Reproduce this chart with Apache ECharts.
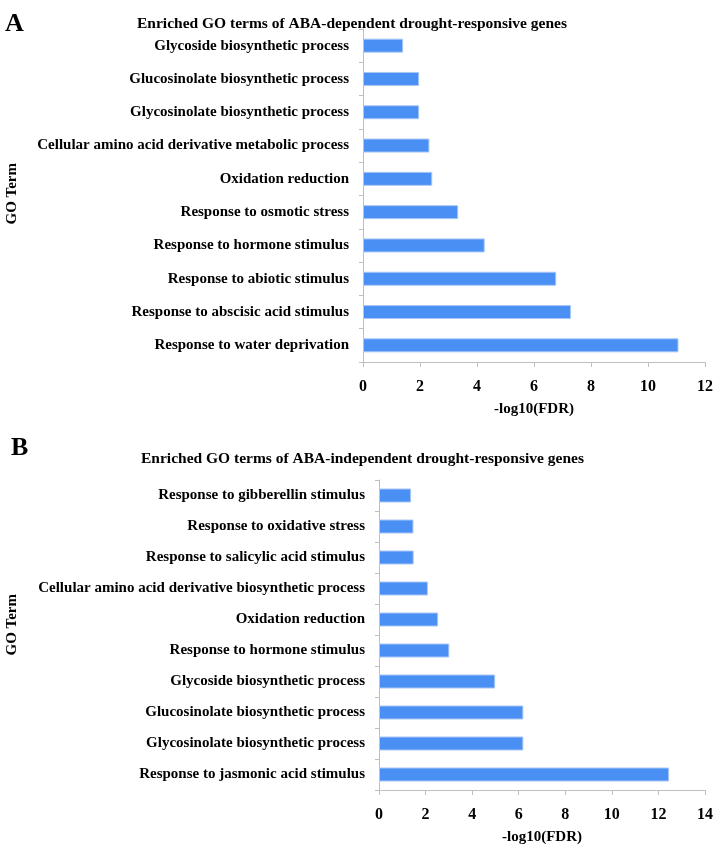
<!DOCTYPE html>
<html>
<head>
<meta charset="utf-8">
<script src="https://cdn.jsdelivr.net/npm/echarts@6/dist/echarts.min.js"></script>
<style>
  html, body { margin: 0; padding: 0; background: #fff; }
  #chart { width: 716px; height: 846px; }
</style>
</head>
<body>
<div id="chart"></div>
<script>
// 上图：ABA依赖
const termsA = [
  "Glycoside biosynthetic process",
  "Glucosinolate biosynthetic process",
  "Glycosinolate biosynthetic process",
  "Cellular amino acid derivative metabolic process",
  "Oxidation reduction",
  "Response to osmotic stress",
  "Response to hormone stimulus",
  "Response to abiotic stimulus",
  "Response to abscisic acid stimulus",
  "Response to water deprivation"
];
const valuesA = [1.41, 1.97, 1.97, 2.33, 2.43, 3.34, 4.27, 6.78, 7.30, 11.07];

// 下图：ABA非依赖
const termsB = [
  "Response to gibberellin stimulus",
  "Response to oxidative stress",
  "Response to salicylic acid stimulus",
  "Cellular amino acid derivative biosynthetic process",
  "Oxidation reduction",
  "Response to hormone stimulus",
  "Glycoside biosynthetic process",
  "Glucosinolate biosynthetic process",
  "Glycosinolate biosynthetic process",
  "Response to jasmonic acid stimulus"
];
const valuesB = [1.38, 1.48, 1.49, 2.10, 2.54, 3.02, 4.99, 6.20, 6.20, 12.46];

const maxA = 12;
const maxB = 14;

const font = "'Liberation Serif', 'Times New Roman', serif";
const axisGray = "#bfbfbf";

const chart = echarts.init(document.getElementById("chart"));

// x轴配置
const makeX = (gridIndex, max) => ({
  type: "value",
  gridIndex,
  min: 0,
  max,
  interval: 2,
  splitLine: { show: false },
  axisLine: { show: true, lineStyle: { color: axisGray } },
  axisTick: { show: true, length: 5, lineStyle: { color: axisGray } },
  axisLabel: {
    color: "#000",
    fontFamily: font,
    fontWeight: "bold",
    fontSize: 16,
    margin: 17
  },
  name: "-log10(FDR)",
  nameLocation: "middle",
  nameGap: 40,
  nameTextStyle: {
    color: "#000",
    fontFamily: font,
    fontWeight: "bold",
    fontSize: 15
  }
});

// y轴配置
const makeY = (gridIndex, data) => ({
  type: "category",
  gridIndex,
  data,
  inverse: true,
  axisLine: { show: true, lineStyle: { color: axisGray } },
  axisTick: { show: true, length: 4, lineStyle: { color: axisGray } },
  axisLabel: {
    color: "#000",
    fontFamily: font,
    fontWeight: "bold",
    fontSize: 15,
    margin: 14
  }
});

const barStyle = {
  color: "#4a8ff4",
  borderColor: "#a8c7f6",
  borderWidth: 1
};

const titleStyle = {
  color: "#000",
  fontFamily: font,
  fontWeight: "bold",
  fontSize: 15.5
};

const options = {
  animation: false,
  backgroundColor: "#fff",
  title: [
    { text: "A", left: 0, top: 6, textStyle: { ...titleStyle, fontSize: 26 } },
    { text: "Enriched GO terms of ABA-dependent drought-responsive genes", left: 132, top: 11, textStyle: titleStyle },
    { text: "B", left: 6, top: 430, textStyle: { ...titleStyle, fontSize: 26 } },
    { text: "Enriched GO terms of ABA-independent drought-responsive genes", left: 136, top: 446, textStyle: titleStyle }
  ],
  graphic: [
    {
      type: "text",
      left: 5,
      top: 163,
      rotation: Math.PI / 2,
      style: { text: "GO Term", font: "bold 15px " + font, fill: "#000" }
    },
    {
      type: "text",
      left: 5,
      top: 594,
      rotation: Math.PI / 2,
      style: { text: "GO Term", font: "bold 15px " + font, fill: "#000" }
    }
  ],
  grid: [
    { left: 363, right: 8, top: 29, height: 333 },
    { left: 379, right: 8, top: 480, height: 312 }
  ],
  xAxis: [makeX(0, maxA), makeX(1, maxB)],
  yAxis: [makeY(0, termsA), makeY(1, termsB)],
  series: [
    {
      type: "bar",
      xAxisIndex: 0,
      yAxisIndex: 0,
      data: valuesA,
      barWidth: 14,
      itemStyle: barStyle
    },
    {
      type: "bar",
      xAxisIndex: 1,
      yAxisIndex: 1,
      data: valuesB,
      barWidth: 14,
      itemStyle: barStyle
    }
  ]
};
chart.setOption(options);
</script>
</body>
</html>
